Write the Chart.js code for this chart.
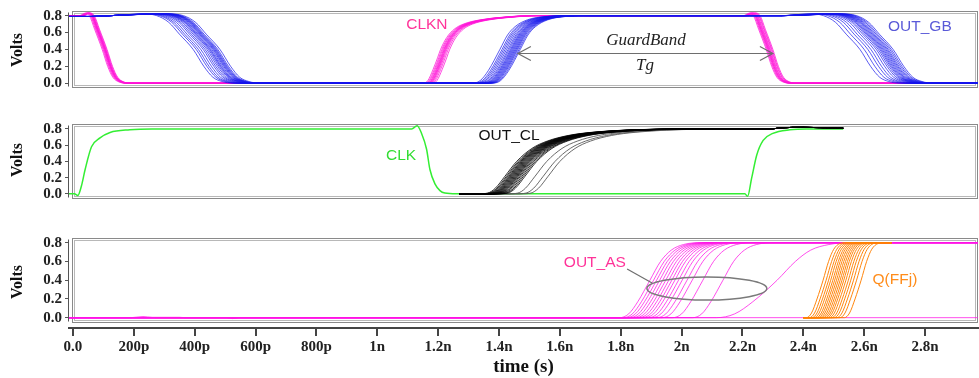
<!DOCTYPE html>
<html>
<head>
<meta charset="utf-8">
<script src="https://cdn.jsdelivr.net/npm/chart.js@4.4.1/dist/chart.umd.min.js"></script>
<style>
  html, body { margin: 0; padding: 0; background: #fff; }
  #wrap { position: relative; width: 979px; height: 378px; }
  #wrap canvas { position: absolute; left: 0; }
</style>
</head>
<body>
<div id="wrap">
  <canvas id="p1" width="979" height="100" style="top:0"></canvas>
  <canvas id="p2" width="979" height="100" style="top:110px"></canvas>
  <canvas id="p3" width="979" height="158" style="top:220px"></canvas>
</div>
<script>
// axes (time in ps)
const timeTicks = [0, 200, 400, 600, 800, 1000, 1200, 1400, 1600, 1800, 2000, 2200, 2400, 2600, 2800];
const timeTickLabels = ['0.0', '200p', '400p', '600p', '800p', '1n', '1.2n', '1.4n', '1.6n', '1.8n', '2n', '2.2n', '2.4n', '2.6n', '2.8n'];
const voltTicks = [0, 0.2, 0.4, 0.6, 0.8];
const tMin = -13, tMax = 2974;

// edge shapes: [ps from the 0.4 V crossing, volts]
const clknFall = [[-75, 0.8], [-55, 0.83], [-42, 0.8], [-25, 0.64], [0, 0.4], [18, 0.2], [35, 0.07], [55, 0.015], [80, 0]];
const clknRise = [[-55, 0], [-42, 0.03], [-25, 0.16], [-10, 0.3], [0, 0.4], [20, 0.54], [45, 0.64], [75, 0.7], [130, 0.75], [200, 0.78], [300, 0.8]];
const gbFall = [[-170, 0.82], [-120, 0.8], [-80, 0.72], [-45, 0.58], [0, 0.4], [35, 0.2], [65, 0.07], [95, 0.02], [130, 0]];
const gbRise = [[-95, 0], [-65, 0.03], [-38, 0.15], [0, 0.4], [25, 0.57], [50, 0.67], [90, 0.75], [150, 0.79], [230, 0.8]];
const clRise = [[-130, 0], [-95, 0.01], [-70, 0.07], [-40, 0.21], [0, 0.4], [50, 0.56], [100, 0.65], [170, 0.72], [250, 0.76], [350, 0.785], [460, 0.797], [600, 0.8]];
const asRise = [[-100, 0], [-70, 0.04], [-40, 0.17], [0, 0.4], [35, 0.6], [70, 0.72], [110, 0.78], [170, 0.8]];
const asSlowRise = [[-200, 0], [-140, 0.04], [-80, 0.17], [0, 0.4], [60, 0.6], [110, 0.72], [170, 0.78], [240, 0.8]];
const qRise = [[-55, 0], [-38, 0.05], [-20, 0.2], [0, 0.4], [18, 0.6], [35, 0.73], [55, 0.79], [75, 0.8]];

// 0.4 V crossing times per trace (ps)
const clknFall1 = [96, 99, 101, 103, 104, 105, 106, 107, 108, 110, 112];
const clknRise1 = [1208, 1212, 1215, 1218, 1220, 1222, 1224, 1226, 1229, 1233, 1238];
const clknFall2 = [2278, 2281, 2283, 2285, 2286, 2288, 2290, 2292, 2295, 2297, 2300];
const gbFall1 = [395, 405, 412, 420, 428, 434, 440, 445, 449, 452, 456, 460, 463, 466, 469, 472, 476, 483];
const gbRise1 = [1403, 1410, 1415, 1420, 1425, 1430, 1434, 1438, 1441, 1444, 1447, 1450, 1453, 1456, 1459, 1462, 1466, 1470];
const gbFall2 = [2586, 2600, 2612, 2622, 2632, 2640, 2646, 2651, 2655, 2659, 2663, 2667, 2671, 2675, 2679, 2684, 2689, 2695];
const clCross = [1458, 1463, 1467, 1471, 1474, 1477, 1480, 1483, 1486, 1489, 1492, 1495, 1498, 1501, 1505, 1509, 1514, 1519, 1524, 1557, 1584, 1600];
const asCross = [1896, 1908, 1918, 1928, 1938, 1948, 1958, 1968, 1978, 1990, 2002, 2018, 2035, 2070, 2136];
const asSlowCross = [2314];
const qCross = [2465, 2475, 2483, 2490, 2497, 2503, 2509, 2515, 2521, 2527, 2533, 2540, 2548, 2556, 2565, 2575, 2590];

// single traces [ps, volts]
const clkWave = [[-13, 0], [5, 0], [16, -0.02], [28, 0.1], [40, 0.3], [61, 0.58], [89, 0.69], [122, 0.757], [187, 0.79], [260, 0.8],
  [1113, 0.8], [1131, 0.84], [1145, 0.75], [1162, 0.55], [1173, 0.3], [1190, 0.12], [1206, 0.04], [1222, 0.01], [1260, 0],
  [2208, 0], [2217, -0.03], [2230, 0.19], [2247, 0.48], [2268, 0.66], [2300, 0.746], [2356, 0.79], [2411, 0.8], [2531, 0.8]];
const asLowWave = [[-13, 0], [190, 0], [230, 0.012], [260, 0.004], [350, 0.004], [370, 0], [505, 0], [525, -0.01], [545, 0], [2974, 0]];

const pt = (t, v) => ({x: t, y: v});
const shifted = (shape, t0) => shape.map(([dt, v]) => pt(t0 + dt, v));
const pairs = arr => arr.map(([t, v]) => pt(t, v));

function line(data, color, width) {
  return {data, borderColor: color, borderWidth: width || 1, pointRadius: 0,
    cubicInterpolationMode: 'monotone', fill: false};
}

const clknTraces = clknFall1.map((f1, i) => [pt(tMin, 0.8), ...shifted(clknFall, f1),
  ...shifted(clknRise, clknRise1[i]), ...shifted(clknFall, clknFall2[i]), pt(tMax, 0)]);
const gbTraces = gbFall1.map((f1, i) => [pt(tMin, 0.79), pt(60, 0.79), pt(150, 0.805), ...shifted(gbFall, f1),
  ...shifted(gbRise, gbRise1[i]), pt(2330, 0.8), ...shifted(gbFall, gbFall2[i]), pt(tMax, 0)]);
const clTraces = clCross.map(c => [pt(1270, 0), ...shifted(clRise, c),
  pt(2290, 0.8), pt(2330, 0.815), pt(2400, 0.82), pt(2531, 0.81)]);
const asTraces = asCross.map(c => [pt(tMin, 0), pt(1700, 0), ...shifted(asRise, c), pt(tMax, 0.8)])
  .concat(asSlowCross.map(c => [pt(tMin, 0), pt(1700, 0), ...shifted(asSlowRise, c), pt(tMax, 0.8)]));
const qTraces = qCross.map(c => [pt(2400, 0), ...shifted(qRise, c), pt(2690, 0.8)]);

// frame + y axis line
const framePlugin = {
  id: 'frame',
  beforeDatasetsDraw(chart) {
    const {ctx, scales: {x, y}} = chart;
    const left = Math.round(x.getPixelForValue(0)) - 0.5;
    const right = chart.width - 1.5;
    const top = Math.round(y.getPixelForValue(0.8)) - 4.5;
    const bottom = Math.round(y.getPixelForValue(0)) + 4.5;
    ctx.save();
    ctx.lineWidth = 1;
    ctx.strokeStyle = '#8a8a8a';
    ctx.strokeRect(left, top, right - left, bottom - top);
    ctx.strokeStyle = '#b8b8b8';
    ctx.strokeRect(left + 2, top + 2, right - left - 4, bottom - top - 4);
    ctx.strokeStyle = '#555';
    const ax = chart.chartArea.left - 0.5;
    ctx.beginPath();
    ctx.moveTo(ax, top + 1);
    ctx.lineTo(ax, bottom - 1);
    ctx.stroke();
    ctx.restore();
  }
};

// labels, arrow, ellipse
const notesPlugin = {
  id: 'notes',
  afterDatasetsDraw(chart, args, opts) {
    const {ctx, scales: {x, y}} = chart;
    ctx.save();
    (opts.arrows || []).forEach(a => {
      const x1 = x.getPixelForValue(a.t1), x2 = x.getPixelForValue(a.t2), yy = Math.round(y.getPixelForValue(a.v)) + 0.5;
      ctx.strokeStyle = '#6e6e6e';
      ctx.lineWidth = 1.2;
      ctx.beginPath();
      ctx.moveTo(x1, yy); ctx.lineTo(x2, yy);
      ctx.moveTo(x1 + 13, yy - 7); ctx.lineTo(x1, yy); ctx.lineTo(x1 + 13, yy + 7);
      ctx.moveTo(x2 - 13, yy - 7); ctx.lineTo(x2, yy); ctx.lineTo(x2 - 13, yy + 7);
      ctx.stroke();
    });
    (opts.leaders || []).forEach(l => {
      ctx.strokeStyle = '#6e6e6e';
      ctx.lineWidth = 1.2;
      ctx.beginPath();
      ctx.moveTo(x.getPixelForValue(l.t1), y.getPixelForValue(l.v1));
      ctx.lineTo(x.getPixelForValue(l.t2), y.getPixelForValue(l.v2));
      ctx.stroke();
    });
    (opts.ellipses || []).forEach(e => {
      const cx = x.getPixelForValue(e.t), cy = y.getPixelForValue(e.v);
      const rx = x.getPixelForValue(e.t + e.rt) - cx, ry = cy - y.getPixelForValue(e.v + e.rv);
      ctx.strokeStyle = '#7a7a7a';
      ctx.lineWidth = 1.5;
      ctx.beginPath();
      ctx.ellipse(cx, cy, rx, ry, 0, 0, Math.PI * 2);
      ctx.stroke();
    });
    ctx.textAlign = 'center';
    ctx.textBaseline = 'middle';
    (opts.texts || []).forEach(n => {
      ctx.font = n.font;
      ctx.fillStyle = n.color;
      ctx.fillText(n.text, x.getPixelForValue(n.t), y.getPixelForValue(n.v));
    });
    ctx.restore();
  }
};

const sansNote = '15.5px "Liberation Sans", Arial, sans-serif';
const serifItalic = 'italic 17px "Liberation Serif", "Times New Roman", serif';

function panelOptions(yMin, yMax, padTop, padBottom, showX, notes) {
  return {
    responsive: false,
    animation: false,
    events: [],
    layout: {padding: {left: 0, right: 1, top: padTop, bottom: padBottom}},
    plugins: {legend: {display: false}, tooltip: {enabled: false}, notes},
    scales: {
      x: {
        type: 'linear', min: tMin, max: tMax, display: showX,
        afterBuildTicks: s => { s.ticks = timeTicks.map(v => ({value: v})); },
        afterFit: s => { if (showX) s.height = 50; },
        border: {display: true, color: '#444', width: 2},
        grid: {drawOnChartArea: false, drawTicks: true, tickLength: 8, color: '#444', lineWidth: 2},
        ticks: {
          padding: 2, color: '#222', maxRotation: 0, autoSkip: false,
          font: {family: '"Liberation Serif", "Times New Roman", serif', size: 15, weight: 'bold'},
          callback: (v, i) => timeTickLabels[i]
        },
        title: {display: true, text: 'time (s)', color: '#111', padding: {top: 0, bottom: 0},
          font: {family: '"Liberation Serif", "Times New Roman", serif', size: 19, weight: 'bold'}}
      },
      y: {
        type: 'linear', min: yMin, max: yMax,
        afterBuildTicks: s => { s.ticks = voltTicks.map(v => ({value: v})); },
        afterFit: s => { s.width = 69; },
        border: {display: false},
        grid: {drawOnChartArea: false, drawTicks: true, tickLength: 4, color: '#555'},
        ticks: {
          padding: 3, color: '#222', autoSkip: false,
          font: {family: '"Liberation Serif", "Times New Roman", serif', size: 15, weight: 'bold'},
          callback: v => v.toFixed(1)
        },
        title: {display: true, text: 'Volts', color: '#111', padding: {top: 8, bottom: 0},
          font: {family: '"Liberation Serif", "Times New Roman", serif', size: 16, weight: 'bold'}}
      }
    }
  };
}

document.addEventListener('DOMContentLoaded', function () {
  new Chart(document.getElementById('p1').getContext('2d'), {
    type: 'line',
    data: {datasets: [
      ...gbTraces.map(d => line(d, 'rgba(20, 20, 235, 0.7)')),
      ...clknTraces.map(d => line(d, 'rgba(255, 20, 215, 0.75)'))
    ]},
    options: panelOptions(-0.057, 0.843, 12, 4, false, {
      texts: [
        {text: 'CLKN', t: 1163, v: 0.694, color: '#ff3399', font: sansNote},
        {text: 'OUT_GB', t: 2783, v: 0.671, color: '#5a5ad8', font: sansNote},
        {text: 'GuardBand', t: 1883, v: 0.511, color: '#222', font: serifItalic},
        {text: 'Tg', t: 1880, v: 0.211, color: '#222', font: serifItalic}
      ],
      arrows: [{t1: 1462, t2: 2300, v: 0.361}]
    }),
    plugins: [framePlugin, notesPlugin]
  });

  new Chart(document.getElementById('p2').getContext('2d'), {
    type: 'line',
    data: {datasets: [
      ...clTraces.map((d, i) => line(d, i < 19 ? 'rgba(0, 0, 0, 0.8)' : 'rgba(90, 90, 90, 0.9)')),
      line(pairs(clkWave), '#33ee33', 1.5)
    ]},
    options: panelOptions(-0.051, 0.886, 12, 1, false, {
      texts: [
        {text: 'CLK', t: 1078, v: 0.466, color: '#33dd33', font: sansNote},
        {text: 'OUT_CL', t: 1433, v: 0.714, color: '#111', font: sansNote}
      ]
    }),
    plugins: [framePlugin, notesPlugin]
  });

  new Chart(document.getElementById('p3').getContext('2d'), {
    type: 'line',
    data: {datasets: [
      ...qTraces.map(d => line(d, 'rgba(255, 128, 0, 0.95)')),
      ...asTraces.map(d => line(d, 'rgba(255, 20, 230, 0.75)')),
      line(pairs(asLowWave), 'rgba(255, 20, 230, 0.75)')
    ]},
    options: panelOptions(-0.11, 0.871, 16, 0, true, {
      texts: [
        {text: 'OUT_AS', t: 1715, v: 0.583, color: '#ff3399', font: sansNote},
        {text: 'Q(FFj)', t: 2701, v: 0.402, color: '#ff8c1a', font: sansNote}
      ],
      leaders: [{t1: 1821, v1: 0.519, t2: 1903, v2: 0.37}],
      ellipses: [{t: 2083, v: 0.311, rt: 197, rv: 0.123}]
    }),
    plugins: [framePlugin, notesPlugin]
  });
});
</script>
</body>
</html>
